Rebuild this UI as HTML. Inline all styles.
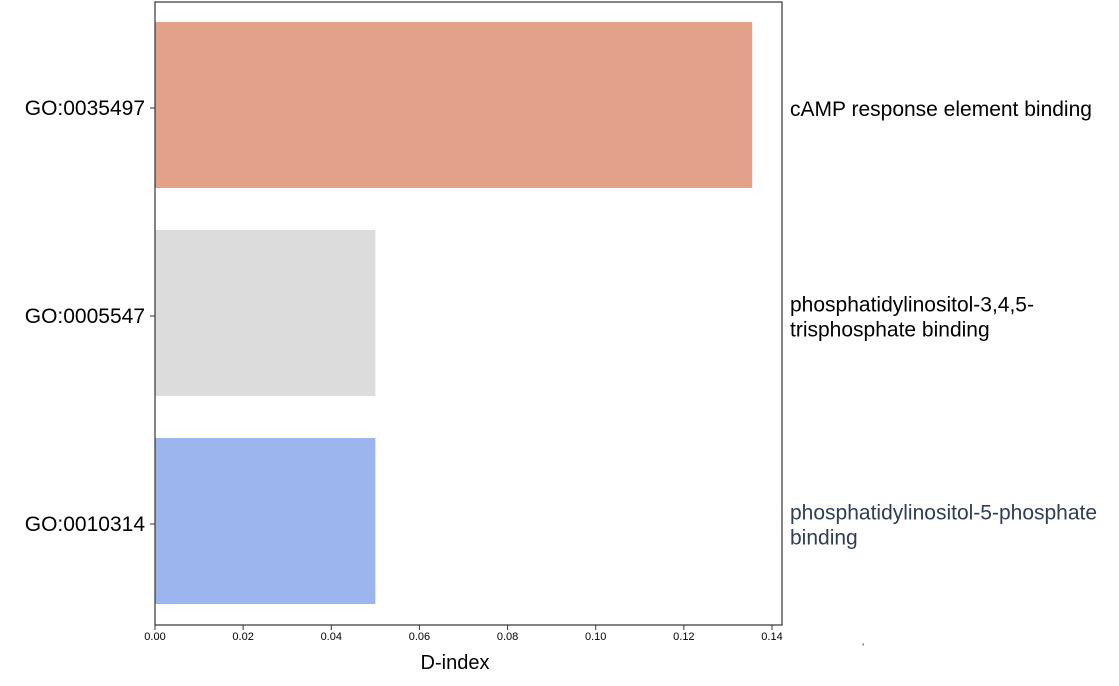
<!DOCTYPE html>
<html><head><meta charset="utf-8"><style>
body{margin:0;background:#fff;width:1119px;height:681px;overflow:hidden;font-family:"Liberation Sans",sans-serif;}
</style></head><body>
<svg width="1119" height="681">
<g id="bars"></g>
<rect x="155" y="2" width="627" height="623" fill="none" stroke="#333" stroke-width="1.2"/>
<g id="xt"></g><g id="yt"></g>
<text x="455" y="669" font-size="20" text-anchor="middle">D-index</text>
<text x="862" y="651" font-size="10">ʽ</text>
</svg>
<script>
const categories=["GO:0035497","GO:0005547","GO:0010314"];
const values=[0.1355,0.05,0.05];
const descriptions=[["cAMP response element binding"],["phosphatidylinositol-3,4,5-","trisphosphate binding"],["phosphatidylinositol-5-phosphate","binding"]];
const colors=["#e4a18a","#dcdcdc","#9db5ef"];
const descColors=["#000","#000","#2f3e55"];
const xTicks=[0,0.02,0.04,0.06,0.08,0.10,0.12,0.14];
const ns="http://www.w3.org/2000/svg";
const x0=155,xs=(772-155)/0.14,plotTop=2,band=208;
const xp=v=>x0+v*xs, yc=i=>plotTop+band*i+band/2-1;
function mk(t,a,p){const e=document.createElementNS(ns,t);for(const k in a)e.setAttribute(k,a[k]);p.appendChild(e);return e;}
const B=document.getElementById('bars'),XT=document.getElementById('xt'),YT=document.getElementById('yt');
categories.forEach((c,i)=>{
 const r=mk('rect',{x:x0,y:yc(i)-83,width:xp(values[i])-x0,height:166,fill:colors[i]},B);
 
 
 const l=mk('line',{x1:x0-5,x2:x0,y1:yc(i)+3,y2:yc(i)+3,stroke:'#333'},YT);
 
 
 const t=mk('text',{x:x0-10,y:yc(i)+10,'font-size':21,'text-anchor':'end'},YT);t.textContent=c;
 
 
 const lines=descriptions[i];const n=lines.length;
 lines.forEach((s,j)=>{const d=mk('text',{x:790,y:yc(i)+11+(j-(n-1)/2)*25,'font-size':21,fill:descColors[i]},YT);d.textContent=s;
 
 });
});
xTicks.forEach(v=>{
 const l=mk('line',{x1:xp(v),x2:xp(v),y1:625,y2:630,stroke:'#333'},XT);
 
 
 const t=mk('text',{x:xp(v),y:640,'font-size':11,'text-anchor':'middle'},XT);t.textContent=v.toFixed(2);
 
 
});
</script>
</body></html>
